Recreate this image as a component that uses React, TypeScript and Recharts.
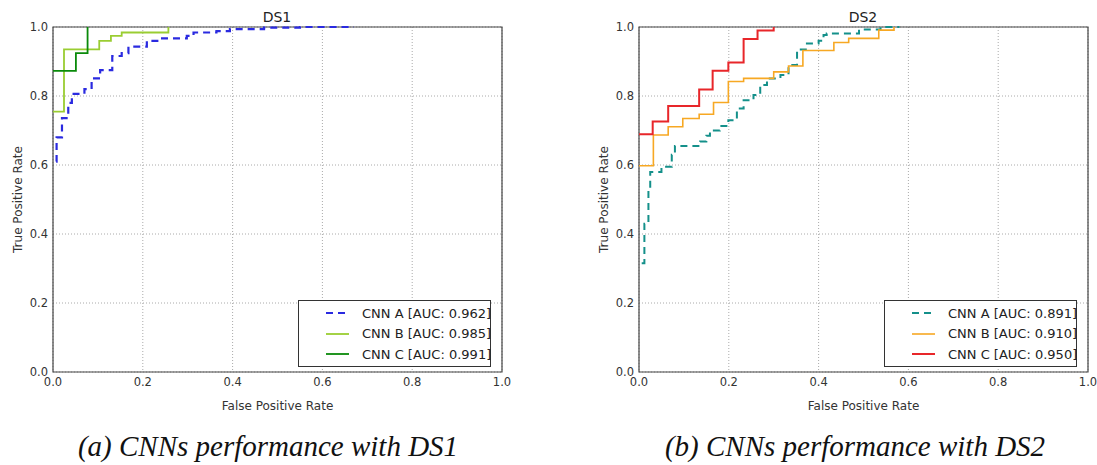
import { LineChart, Line, XAxis, YAxis, CartesianGrid, Legend, ReferenceArea } from "recharts";

const TICKS = [0, 0.2, 0.4, 0.6, 0.8, 1.0];
const CNN_NAMES = ["CNN A", "CNN B", "CNN C"];

// DS1
const ds1Auc = [0.962, 0.985, 0.991];
const ds1AFpr = [0.007, 0.008, 0.02, 0.034, 0.042, 0.07, 0.086, 0.105, 0.132, 0.153, 0.168, 0.209, 0.238, 0.298, 0.313, 0.364, 0.394, 0.47, 0.55, 0.67];
const ds1ATpr = [0.61, 0.68, 0.736, 0.78, 0.806, 0.82, 0.851, 0.875, 0.916, 0.924, 0.943, 0.96, 0.967, 0.974, 0.984, 0.988, 0.994, 0.998, 1.0, 1.0];
const ds1BFpr = [0, 0.0245, 0.103, 0.129, 0.153, 0.257];
const ds1BTpr = [0.755, 0.935, 0.96, 0.974, 0.984, 1.0];
const ds1CFpr = [0, 0.051, 0.077];
const ds1CTpr = [0.873, 0.924, 1.0];

// DS2
const ds2Auc = [0.891, 0.91, 0.95];
const ds2AFpr = [0.006, 0.012, 0.021, 0.025, 0.05, 0.073, 0.08, 0.136, 0.15, 0.158, 0.18, 0.199, 0.218, 0.233, 0.255, 0.27, 0.285, 0.315, 0.333, 0.352, 0.374, 0.4, 0.411, 0.418, 0.49, 0.538, 0.58];
const ds2ATpr = [0.315, 0.43, 0.53, 0.58, 0.595, 0.63, 0.655, 0.668, 0.685, 0.7, 0.713, 0.73, 0.764, 0.788, 0.803, 0.832, 0.851, 0.861, 0.89, 0.935, 0.952, 0.96, 0.977, 0.981, 0.993, 1.0, 1.0];
const ds2BFpr = [0, 0.032, 0.065, 0.0975, 0.134, 0.166, 0.199, 0.233, 0.3, 0.333, 0.365, 0.434, 0.467, 0.534, 0.568];
const ds2BTpr = [0.598, 0.687, 0.711, 0.735, 0.747, 0.781, 0.842, 0.851, 0.87, 0.887, 0.932, 0.955, 0.967, 0.991, 1.0];
const ds2CFpr = [0, 0.0305, 0.065, 0.134, 0.164, 0.199, 0.233, 0.264, 0.3];
const ds2CTpr = [0.689, 0.726, 0.771, 0.819, 0.873, 0.897, 0.965, 0.99, 1.0];

const FONT = "'DejaVu Sans', Verdana, sans-serif";

type Series = {
  name: string;
  color: string;
  width: number;
  dash?: string;
  points: { x: number; y: number }[];
};

const zip = (xs: number[], ys: number[]) => xs.map((x, i) => ({ x, y: ys[i] }));

const makeSeries = (
  auc: number[],
  colors: string[],
  widths: number[],
  pts: { x: number; y: number }[][]
): Series[] =>
  CNN_NAMES.map((n, i) => ({
    name: `${n} [AUC: ${auc[i].toFixed(3)}]`,
    color: colors[i],
    width: widths[i],
    dash: i === 0 ? "7 5" : undefined,
    points: pts[i],
  }));

const ds1Series = makeSeries(ds1Auc, ["#2a2ae0", "#9acd32", "#0a8a0a"], [2.2, 1.8, 1.8], [
  zip(ds1AFpr, ds1ATpr),
  zip(ds1BFpr, ds1BTpr),
  zip(ds1CFpr, ds1CTpr),
]);
const ds2Series = makeSeries(ds2Auc, ["#14908a", "#f7a823", "#e8262a"], [2.0, 1.6, 2.0], [
  zip(ds2AFpr, ds2ATpr),
  zip(ds2BFpr, ds2BTpr),
  zip(ds2CFpr, ds2CTpr),
]);

function RocLegend({ series }: { series: Series[] }) {
  return (
    <div
      style={{
        border: "1px solid #333",
        background: "#fff",
        boxSizing: "border-box",
        width: 193,
        height: 67,
        paddingTop: 2,
        fontFamily: FONT,
        fontSize: 13,
        color: "#222",
      }}
    >
      {series.map((s) => (
        <div key={s.name} style={{ display: "flex", alignItems: "center", height: 20.5 }}>
          <svg width={63} height={10} style={{ flex: "none" }}>
            <line x1={27} x2={50} y1={5} y2={5} stroke={s.color} strokeWidth={s.width} strokeDasharray={s.dash} />
          </svg>
          <span style={{ whiteSpace: "nowrap" }}>{s.name}</span>
        </div>
      ))}
    </div>
  );
}

function RocPanel({ title, series, left }: { title: string; series: Series[]; left: number }) {
  const tickStyle = { fontFamily: FONT, fontSize: 11.5, fill: "#333" };
  return (
    <div style={{ position: "absolute", left, top: 0 }}>
      <LineChart width={520} height={420} margin={{ top: 27, right: 18, bottom: 18, left: 8 }}>
        <CartesianGrid stroke="#aaa" strokeDasharray="1 2" />
        <XAxis
          type="number"
          dataKey="x"
          domain={[0, 1]}
          ticks={TICKS}
          tickFormatter={(v: number) => v.toFixed(1)}
          height={30}
          tickLine={false}
          axisLine={false}
          tickSize={4}
          tickMargin={2}
          tick={tickStyle}
          label={{
            value: "False Positive Rate",
            position: "insideBottom",
            offset: -8,
            style: { fontFamily: FONT, fontSize: 12, fill: "#333" },
          }}
        />
        <YAxis
          type="number"
          dataKey="y"
          domain={[0, 1]}
          ticks={TICKS}
          tickFormatter={(v: number) => v.toFixed(1)}
          width={45}
          tickLine={false}
          axisLine={false}
          tickSize={3}
          tickMargin={2}
          tick={tickStyle}
          label={{
            value: "True Positive Rate",
            angle: -90,
            position: "insideLeft",
            offset: 10,
            style: { fontFamily: FONT, fontSize: 12, fill: "#333", textAnchor: "middle" },
          }}
        />
        <ReferenceArea x1={0} x2={1} y1={0} y2={1} fill="none" stroke="#444" strokeWidth={1.2} />
        {series.map((s) => (
          <Line
            key={s.name}
            name={s.name}
            data={s.points}
            dataKey="y"
            type="stepAfter"
            stroke={s.color}
            strokeWidth={s.width}
            strokeDasharray={s.dash}
            dot={false}
            activeDot={false}
            isAnimationActive={false}
          />
        ))}
        <Legend
          layout="vertical"
          align="center"
          verticalAlign="middle"
          wrapperStyle={{ left: 298, top: 300, width: 193, height: 67 }}
          content={() => <RocLegend series={series} />}
        />
        <text x={277} y={22} textAnchor="middle" fontFamily={FONT} fontSize={14} fill="#222">
          {title}
        </text>
      </LineChart>
    </div>
  );
}

const captionStyle = {
  position: "absolute" as const,
  top: 429,
  width: 520,
  textAlign: "center" as const,
  fontFamily: "'Liberation Serif', 'Times New Roman', serif",
  fontStyle: "italic",
  fontSize: 29,
  lineHeight: "34px",
  color: "#111",
  whiteSpace: "nowrap" as const,
};

export default function App() {
  return (
    <div style={{ position: "absolute", left: 0, top: 0, width: 1097, height: 465, background: "#fff", overflow: "hidden" }}>
      <RocPanel title="DS1" series={ds1Series} left={0} />
      <RocPanel title="DS2" series={ds2Series} left={586} />
      <div style={{ ...captionStyle, left: 8 }}>(a) CNNs performance with DS1</div>
      <div style={{ ...captionStyle, left: 595 }}>(b) CNNs performance with DS2</div>
    </div>
  );
}
